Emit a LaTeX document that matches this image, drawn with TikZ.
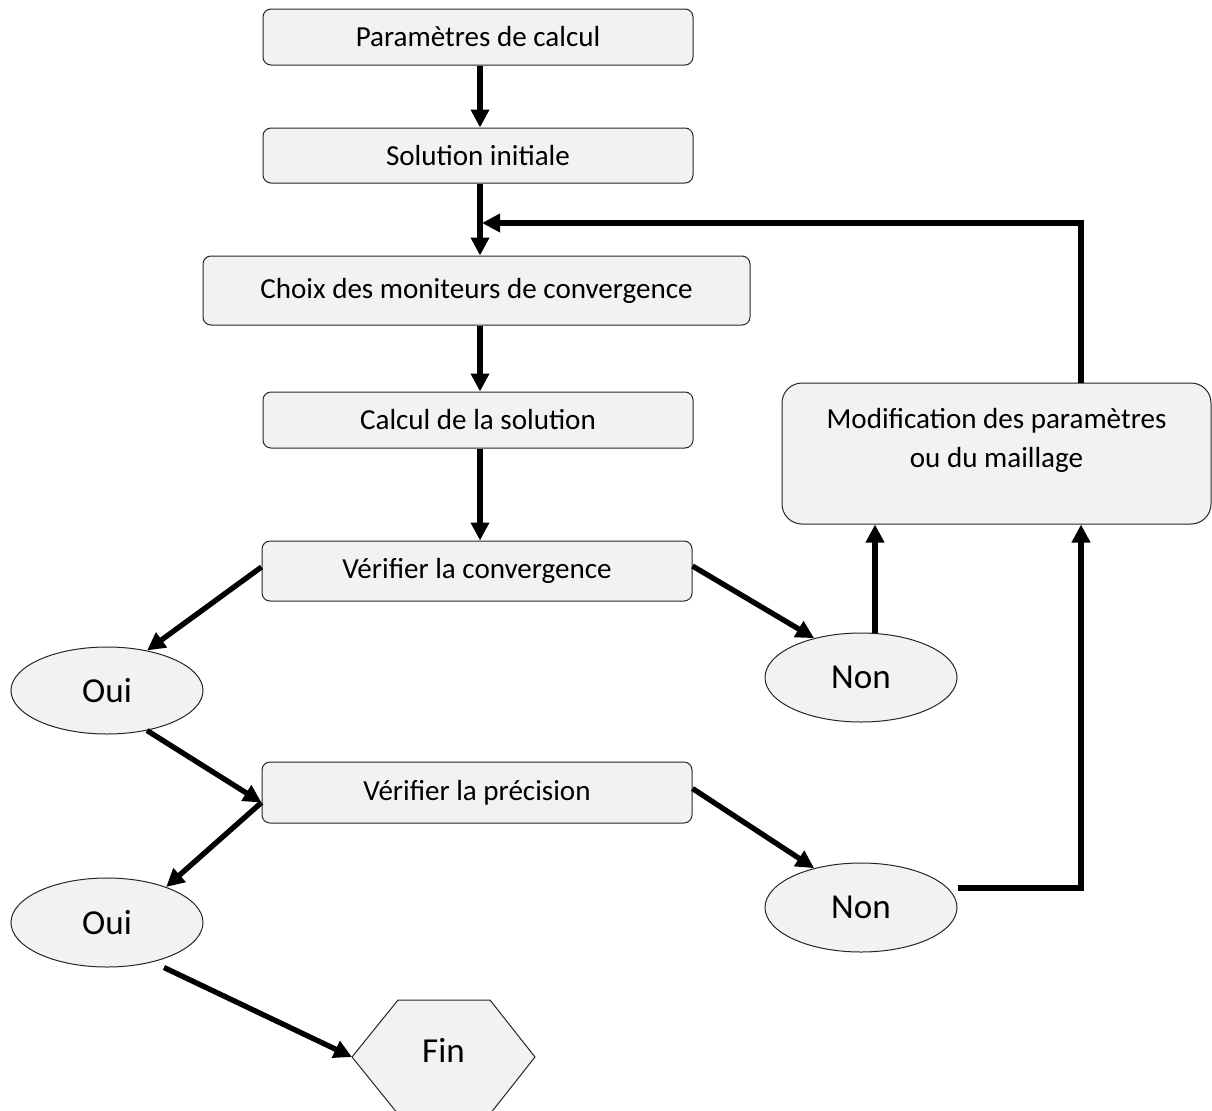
\documentclass[tikz,border=0pt]{standalone}
\usepackage{fontspec}
\setmainfont{Carlito}
\usetikzlibrary{arrows.meta,calc,shapes.geometric}
\definecolor{boxgray}{HTML}{F2F2F2}
\begin{document}
\begin{tikzpicture}[x=0.75pt,y=-0.75pt,
  box/.style={draw=black!85, line width=0.75pt, fill=boxgray, rounded corners=6pt,
    inner sep=0pt, align=center, font=\fontsize{21.8}{29.2}\selectfont},
  oval/.style={ellipse, draw=black!85, line width=0.75pt, fill=boxgray, inner sep=0pt,
    minimum width=144pt, font=\fontsize{26.3}{30}\selectfont},
  flow/.style={line width=4pt, -{Triangle[length=13.5pt,width=13.3pt]}}]
\useasboundingbox (0,0) rectangle (1212,1110);

% boxes
\node[box, minimum width=322.5pt, minimum height=42pt] (b1) at (478,37) {Paramètres de calcul};
\node[box, minimum width=322.5pt, minimum height=41.25pt] (b2) at (478,155.5) {Solution initiale};
\node[box, minimum width=410.25pt, minimum height=51.75pt] (b3) at (476.5,290.5) {Choix des moniteurs de convergence};
\node[box, minimum width=322.5pt, minimum height=42pt] (b4) at (478,420) {Calcul de la solution};
\node[box, minimum width=322.5pt, minimum height=45pt] (b5) at (477,571) {Vérifier la convergence};
\node[box, minimum width=322.5pt, minimum height=45.75pt] (b7) at (477,792.5) {Vérifier la précision};
\node[box, rounded corners=15pt, minimum width=321.75pt, minimum height=105.75pt] (mod) at (996.5,453.5)
  {Modification des paramètres\\ou du maillage\\[-6pt]\mbox{}};

% ellipses
\node[oval, minimum height=65.25pt] (oui1) at (107,690.5) {Oui};
\node[oval, minimum height=66.75pt] (non1) at (861,677.5) {Non};
\node[oval, minimum height=66.75pt] (oui2) at (107,922.5) {Oui};
\node[oval, minimum height=66.75pt] (non2) at (861,907.5) {Non};

% end hexagon
\draw[draw=black!85, line width=0.75pt, fill=boxgray]
  (352,1057) -- (398,1000) -- (490,1000) -- (535,1057) -- (490,1114) -- (398,1114) -- cycle;
\node[font=\fontsize{26.3}{30}\selectfont, inner sep=0pt] (fin) at (443.5,1050) {Fin};
\coordinate (finL) at (352,1057);

% helper coordinates
\coordinate (cx) at (480,0);
\coordinate (j) at (482,223);
\coordinate (rx) at (1081,223);

% vertical chain
\draw[flow] (b1.south -| cx) -- (b2.north -| cx);
\draw[flow] (b2.south -| cx) -- (b3.north -| cx);
\draw[flow] (b3.south -| cx) -- (b4.north -| cx);
\draw[flow] (b4.south -| cx) -- (b5.north -| cx);

% loop back
\draw[flow] (rx |- mod.north) -- (rx) -- (j);

% convergence branches
\draw[flow] ($(b5.west)+(0,-4)$) -- (oui1.45);
\draw[flow] ($(b5.east)+(0,-5)$) -- (non1.140);
\coordinate (n1t) at ($(non1.north)+(14,0.5)$);
\draw[flow] (n1t) -- (n1t |- mod.south);

% precision branches
\coordinate (b7l) at ($(b7.west)+(0,10)$);
\draw[flow] (oui1.-45) -- (b7l);
\draw[flow] (b7l) -- (oui2.31);
\draw[flow] ($(b7.east)+(0,-4)$) -- (non2.140);
\coordinate (n2r) at ($(non2.east)+(0,-19.5)$);
\draw[flow] (n2r) -- (n2r -| rx) -- (rx |- mod.south);
\draw[flow] ($(oui2.south)+(57,0)$) -- (finL);
\end{tikzpicture}
\end{document}
